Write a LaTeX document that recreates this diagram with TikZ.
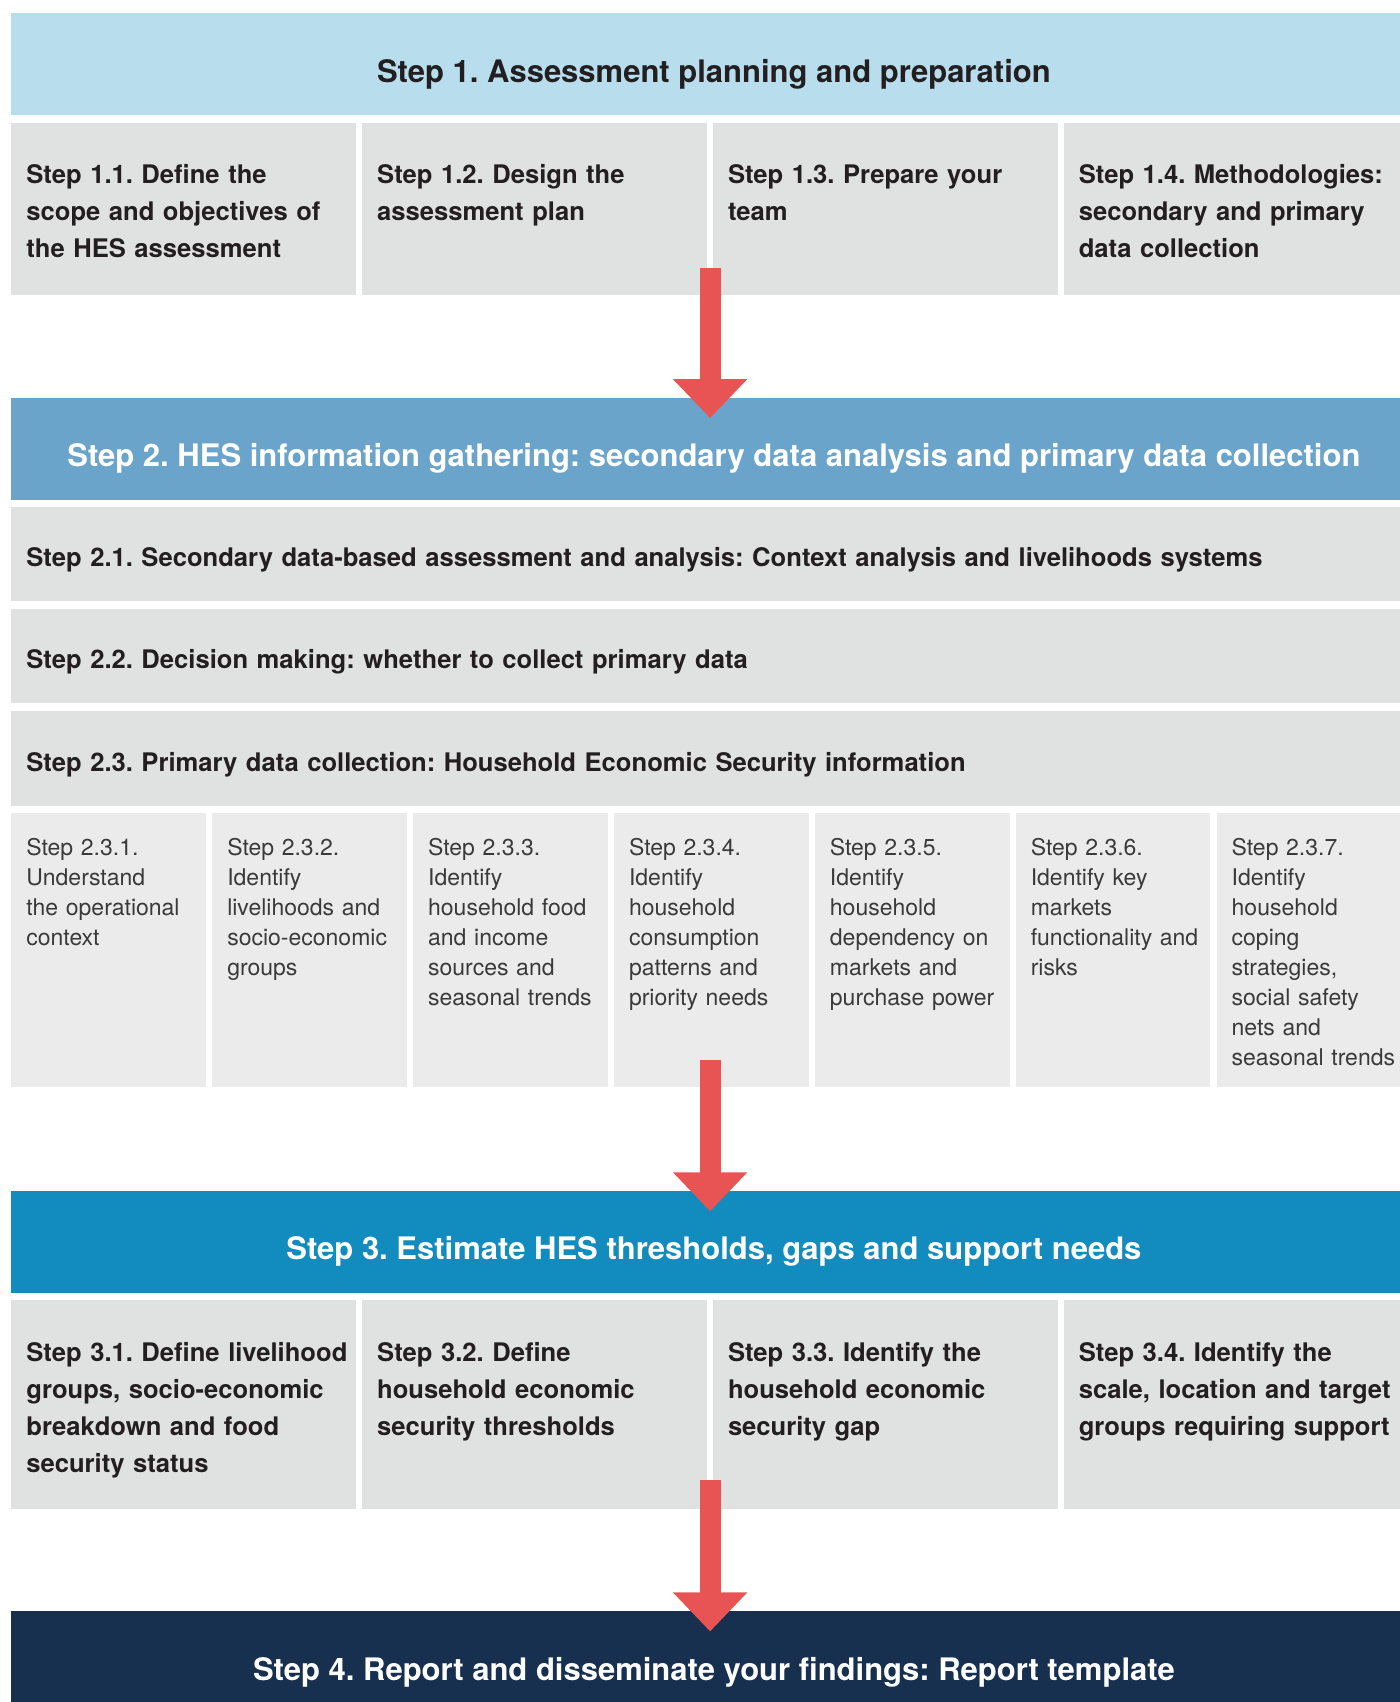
\documentclass[tikz,border=0pt]{standalone}
\usepackage{fontspec}
\setmainfont{TeX Gyre Heros}
\usetikzlibrary{arrows.meta,positioning,calc}
\usepackage{xcolor}
\frenchspacing

\definecolor{headA}{HTML}{B8DDEC}
\definecolor{headB}{HTML}{6BA4CA}
\definecolor{headC}{HTML}{128BBE}
\definecolor{headD}{HTML}{17304F}
\definecolor{cellgray}{HTML}{E0E1E1}
\definecolor{celllight}{HTML}{EBEBEB}
\definecolor{arrowred}{HTML}{E85454}
\definecolor{inkdark}{HTML}{231F20}
\definecolor{inkgray}{HTML}{3A3A3A}

\begin{document}
\begin{tikzpicture}[
    head/.style={fill=#1, anchor=north west, minimum width=702.5pt, minimum height=51pt,
        inner sep=0pt, text height=18.2pt, text depth=0pt, text=white,
        font=\fontsize{15.5}{18}\selectfont\bfseries},
    cell/.style={fill=cellgray, text=inkdark, inner sep=0pt, align=left,
        font=\fontsize{12.8}{18.5}\selectfont\bfseries,
        execute at begin node={\leftskip=7.5pt\hyphenpenalty=10000\relax}},
    stepbox/.style={cell, text width=172.5pt, text height=30.5pt, text depth=#1},
    wide/.style={cell, text width=697.5pt, minimum height=47.2pt, text height=12.6pt, text depth=0pt},
    sub/.style={cell, fill=celllight, text=inkgray, text width=97.29pt,
        font=\fontsize{11.5}{15}\selectfont, text height=21.25pt, text depth=115.75pt},
    arr/.style={-{Triangle[width=36pt,length=19.5pt]}, line width=10.5pt, arrowred}
]
\useasboundingbox (0,0) rectangle (700pt,-851pt);
\clip (0,0) rectangle (700pt,-851pt);

\node[head=headA, text=inkdark] (h1) at (5.5pt,-6.5pt) {Step 1. Assessment planning and preparation};
\node[stepbox=55.5pt, below right=3.25pt and 0pt of h1.south west] (s11) {Step 1.1. Define the\\scope and objectives of\\the HES assessment};
\node[stepbox=55.5pt, right=2.5pt of s11] (s12) {Step 1.2. Design the\\assessment plan};
\node[stepbox=55.5pt, right=2.5pt of s12] (s13) {Step 1.3. Prepare your\\team};
\node[stepbox=55.5pt, right=2.5pt of s13] (s14) {Step 1.4. Methodologies:\\secondary and primary\\data collection};

\node[head=headB, below right=51pt and 0pt of s11.south west] (h2) {Step 2. HES information gathering: secondary data analysis and primary data collection};
\node[wide, below right=3.25pt and 0pt of h2.south west] (s21) {Step 2.1. Secondary data-based assessment and analysis: Context analysis and livelihoods systems};
\node[wide, below right=3.5pt and 0pt of s21.south west] (s22) {Step 2.2. Decision making: whether to collect primary data};
\node[wide, below right=3.5pt and 0pt of s22.south west] (s23) {Step 2.3. Primary data collection: Household Economic Security information};

\node[sub, below right=3.25pt and 0pt of s23.south west] (s231) {Step 2.3.1.\\Understand\\the operational\\context};
\node[sub, right=2.75pt of s231] (s232) {Step 2.3.2.\\Identify\\livelihoods and\\socio-economic\\groups};
\node[sub, right=2.75pt of s232] (s233) {Step 2.3.3.\\Identify\\household food\\and income\\sources and\\seasonal trends};
\node[sub, right=2.75pt of s233] (s234) {Step 2.3.4.\\Identify\\household\\consumption\\patterns and\\priority needs};
\node[sub, right=2.75pt of s234] (s235) {Step 2.3.5.\\Identify\\household\\dependency on\\markets and\\purchase power};
\node[sub, right=2.75pt of s235] (s236) {Step 2.3.6.\\Identify key\\markets\\functionality and\\risks};
\node[sub, right=2.75pt of s236] (s237) {Step 2.3.7.\\Identify\\household\\coping\\strategies,\\social safety\\nets and\\seasonal trends};

\node[head=headC, below right=51.5pt and 0pt of s231.south west] (h3) {Step 3. Estimate HES thresholds, gaps and support needs};
\node[stepbox=74pt, below right=3.25pt and 0pt of h3.south west] (s31) {Step 3.1. Define livelihood\\groups, socio-economic\\breakdown and food\\security status};
\node[stepbox=74pt, right=2.5pt of s31] (s32) {Step 3.2. Define\\household economic\\security thresholds};
\node[stepbox=74pt, right=2.5pt of s32] (s33) {Step 3.3. Identify the\\household economic\\security gap};
\node[stepbox=74pt, right=2.5pt of s33] (s34) {Step 3.4. Identify the\\scale, location and target\\groups requiring support};

\node[head=headD, below right=50.5pt and 0pt of s31.south west] (h4) {Step 4. Report and disseminate your findings: Report template};

\coordinate (mid) at ($(s12.south east)!.5!(s13.south west)$);
\draw[arr] ($(mid)+(0,13.5pt)$) -- ($(mid |- h2.north)+(0,-10.5pt)$);
\draw[arr] ($(mid |- s234.south)+(0,13.5pt)$) -- ($(mid |- h3.north)+(0,-10.5pt)$);
\draw[arr] ($(s32.south east)!.5!(s33.south west)+(0,14.5pt)$) -- ($(mid |- h4.north)+(0,-10.5pt)$);
\end{tikzpicture}
\end{document}
